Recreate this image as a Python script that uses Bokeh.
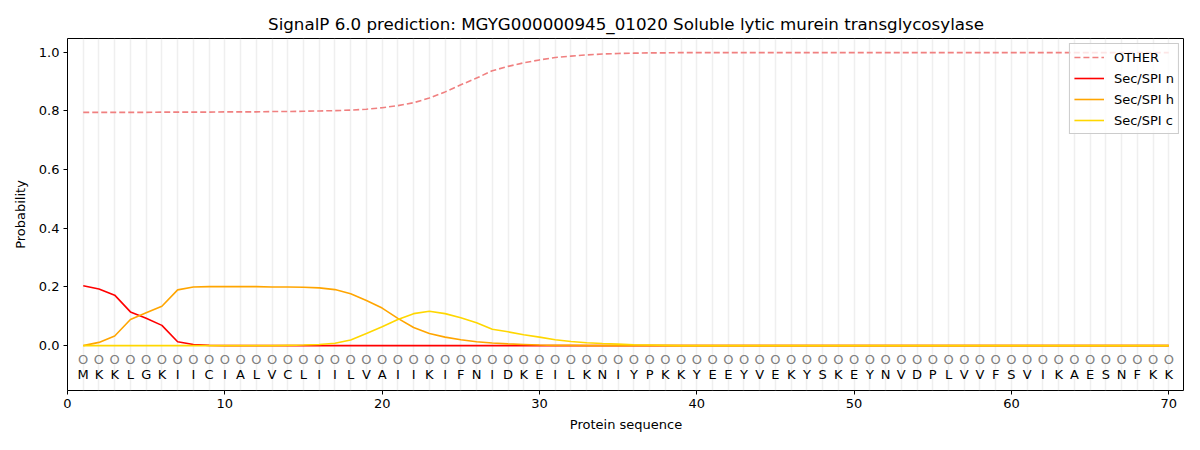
from bokeh.plotting import figure
from bokeh.models import ColumnDataSource, Range1d, FixedTicker, Legend, LegendItem, CustomJSTickFormatter
from bokeh.core.properties import value
from bokeh.embed import file_html
from bokeh.resources import INLINE

sequence = list("MKKLGKIICIALVCLIILVAIIKIFNIDKEILKNIYPKKYEEYVEKYSKEYNVDPLVVFSVIKAESNFKK")
positions = list(range(1, len(sequence) + 1))

other = [0.795, 0.795, 0.795, 0.795, 0.795, 0.796, 0.796, 0.796, 0.796, 0.797,
         0.797, 0.797, 0.798, 0.798, 0.799, 0.800, 0.801, 0.803, 0.806, 0.811,
         0.818, 0.828, 0.844, 0.865, 0.889, 0.912, 0.937, 0.952, 0.964, 0.974,
         0.982, 0.987, 0.991, 0.994, 0.996, 0.997, 0.998, 0.998, 0.999, 0.999] + [0.999] * 30
sec_n = [0.204, 0.193, 0.172, 0.115, 0.093, 0.069, 0.013, 0.004, 0.001, 0.0] + [0.0] * 60
sec_h = [0.0, 0.011, 0.033, 0.089, 0.112, 0.134, 0.190, 0.200, 0.201, 0.201,
         0.201, 0.201, 0.200, 0.200, 0.199, 0.197, 0.191, 0.177, 0.154, 0.128,
         0.093, 0.062, 0.041, 0.029, 0.020, 0.013, 0.009, 0.006, 0.004, 0.002,
         0.001, 0.001] + [0.0] * 38
sec_c = [0.0] * 13 + [0.001, 0.002, 0.004, 0.008, 0.019, 0.041, 0.064,
         0.089, 0.109, 0.117, 0.109, 0.095, 0.078, 0.056, 0.047, 0.037, 0.029,
         0.020, 0.014, 0.010, 0.007, 0.005, 0.003, 0.002, 0.001] + [0.0] * 32

x_ticks = [0, 10, 20, 30, 40, 50, 60, 70]
y_ticks = [0.0, 0.2, 0.4, 0.6, 0.8, 1.0]

FONT = "DejaVu Sans"

p = figure(width=1184, height=434, output_backend="svg", toolbar_location=None,
           x_range=Range1d(0, 71), y_range=Range1d(-0.153, 1.047),
           min_border_left=67, min_border_right=0, min_border_top=38, min_border_bottom=40)

p.title.text = "SignalP 6.0 prediction: MGYG000000945_01020 Soluble lytic murein transglycosylase"
p.title.align = "center"
p.title.text_font = FONT
p.title.text_font_size = "16.7px"
p.title.text_font_style = "normal"
p.title.text_color = "black"

p.outline_line_color = "black"
p.outline_line_alpha = 1.0
p.outline_line_width = 1

p.xgrid.ticker = FixedTicker(ticks=positions)
p.xgrid.grid_line_color = "#e0e0e0"
p.xgrid.grid_line_alpha = 0.5
p.xgrid.grid_line_width = 1.5
p.ygrid.grid_line_color = None

for ax in (p.xaxis[0], p.yaxis[0]):
    ax.major_label_text_font = FONT
    ax.major_label_text_font_size = "13px"
    ax.major_label_text_color = "black"
    ax.axis_label_text_font = FONT
    ax.axis_label_text_font_size = "13px"
    ax.axis_label_text_font_style = "normal"
    ax.axis_label_text_color = "black"
    ax.major_tick_in = 0
    ax.major_tick_out = 4
    ax.minor_tick_line_color = None
    ax.axis_line_color = None
    ax.major_tick_line_color = "black"

p.xaxis.ticker = FixedTicker(ticks=x_ticks)
p.yaxis.ticker = FixedTicker(ticks=y_ticks)
p.yaxis.formatter = CustomJSTickFormatter(code="return tick.toFixed(1);")
p.xaxis.axis_label = "Protein sequence"
p.yaxis.axis_label = "Probability"
p.xaxis.major_label_standoff = 4
p.yaxis.major_label_standoff = 4
p.xaxis.axis_label_standoff = 6
p.yaxis.axis_label_standoff = 8

src = ColumnDataSource(dict(x=positions, other=other, n=sec_n, h=sec_h, c=sec_c,
                            aa=sequence, o=["O"] * len(sequence),
                            yo=[-0.047] * len(sequence), ya=[-0.1] * len(sequence)))

r_other = p.line("x", "other", source=src, line_color="#F08080", line_width=1.6, line_dash="6 3")
r_n = p.line("x", "n", source=src, line_color="#FF0000", line_width=1.6)
r_h = p.line("x", "h", source=src, line_color="#FFA500", line_width=1.6)
r_c = p.line("x", "c", source=src, line_color="#FFD700", line_width=1.6)

p.text("x", "yo", text="o", source=src, text_font=value(FONT), text_font_size="13px",
       text_color="#808080", text_align="center", text_baseline="middle")
p.text("x", "ya", text="aa", source=src, text_font=value(FONT), text_font_size="13px",
       text_color="black", text_align="center", text_baseline="middle")

legend = Legend(items=[LegendItem(label="OTHER", renderers=[r_other]),
                       LegendItem(label="Sec/SPI n", renderers=[r_n]),
                       LegendItem(label="Sec/SPI h", renderers=[r_h]),
                       LegendItem(label="Sec/SPI c", renderers=[r_c])],
                location="top_right")
legend.label_text_font = FONT
legend.label_text_font_size = "13px"
legend.label_text_color = "black"
legend.border_line_color = "#cccccc"
legend.border_line_alpha = 1.0
legend.background_fill_alpha = 0.8
legend.margin = 5
legend.padding = 4
legend.spacing = 3
legend.glyph_width = 30
legend.glyph_height = 18
legend.label_standoff = 10
legend.label_height = 18
p.add_layout(legend)

open("out.html", "w").write(file_html(p, INLINE))
